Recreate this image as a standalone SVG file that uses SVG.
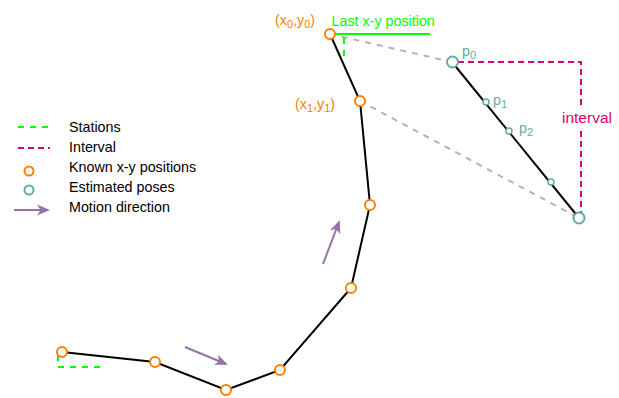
<svg xmlns="http://www.w3.org/2000/svg" width="619" height="398" viewBox="0 0 619 398">
<defs>
<style>
text{font-family:"Liberation Sans",Arial,sans-serif;font-size:14.3px}
.sub{font-size:11px}
.k{fill:#fff;stroke:#ff8000;stroke-width:2}
.e{fill:#fff;stroke:#67ab9f;stroke-width:2}
.es{fill:#fff;stroke:#67ab9f;stroke-width:1.5}
.path{fill:none;stroke:#000;stroke-width:2}
.gd{fill:none;stroke:#b3b3b3;stroke-width:2;stroke-dasharray:6 6}
.st{fill:none;stroke:#00ff00;stroke-width:2;stroke-dasharray:6 6}
.iv{fill:none;stroke:#d80073;stroke-width:2;stroke-dasharray:6 4}
.mv{stroke:#9673a6;stroke-width:2;fill:none}
</style>
<marker id="ah" markerWidth="13" markerHeight="12" refX="11" refY="6" orient="auto" markerUnits="userSpaceOnUse">
<path d="M0,0.5 L13,6 L0,11.5 L3.5,6 Z" fill="#9673a6"/>
</marker>
</defs>
<g id="connectors">
<path class="gd" d="M330,34 L452,62"/>
<path class="gd" d="M360,101 L579,218"/>
<polyline class="path" points="62,352 155,362 226,390 280,370 351,288 370,205 360,101 330,34"/>
<polyline class="path" points="452,62 579,218"/>
<path d="M335,34 L430,34" stroke="#00ff00" stroke-width="2"/>
<path class="st" d="M344,38 L344,56"/>
<path class="st" d="M58,355 L58,367 L100,367"/>
<path class="iv" d="M458,62 L581,62 L581,107"/>
<path class="iv" d="M581,131 L581,214"/>
<path class="mv" marker-end="url(#ah)" d="M185,347 L226,364"/>
<path class="mv" marker-end="url(#ah)" d="M323,264 L339,222"/>
</g>
<g id="known">
<circle class="k" cx="62" cy="352" r="5"/>
<circle class="k" cx="155" cy="362" r="5"/>
<circle class="k" cx="226" cy="390" r="5"/>
<circle class="k" cx="280" cy="370" r="5"/>
<circle class="k" cx="351" cy="288" r="5"/>
<circle class="k" cx="370" cy="205" r="5"/>
<circle class="k" cx="360" cy="101" r="5"/>
<circle class="k" cx="330" cy="34" r="5"/>
</g>
<g id="estimated">
<circle class="e" cx="452.5" cy="62" r="5.5"/>
<circle class="es" cx="486" cy="102" r="3"/>
<circle class="es" cx="509" cy="131" r="3"/>
<circle class="es" cx="551" cy="182" r="3"/>
<circle class="e" cx="579" cy="218" r="5.5"/>
</g>
<g id="labels">
<text x="275" y="25" fill="#ff8000">(x<tspan class="sub" dy="3">0</tspan><tspan dy="-3">,y</tspan><tspan class="sub" dy="3">0</tspan><tspan dy="-3">)</tspan></text>
<text x="295" y="109" fill="#ff8000">(x<tspan class="sub" dy="3">1</tspan><tspan dy="-3">,y</tspan><tspan class="sub" dy="3">1</tspan><tspan dy="-3">)</tspan></text>
<text x="331.5" y="26" fill="#00ff00">Last x-y position</text>
<text x="462" y="56" fill="#67ab9f">p<tspan class="sub" dy="3">0</tspan></text>
<text x="493" y="105" fill="#67ab9f">p<tspan class="sub" dy="3">1</tspan></text>
<text x="519" y="133" fill="#67ab9f">p<tspan class="sub" dy="3">2</tspan></text>
<text x="562" y="123" fill="#d80073" style="font-size:15.5px">interval</text>
</g>
<g id="legend">
<path class="st" d="M18,127 L50,127"/>
<path class="iv" d="M18,148 L50,148" stroke-dasharray="6 6"/>
<circle class="k" cx="29" cy="171" r="4.5"/>
<circle class="e" cx="29" cy="190" r="4.5"/>
<path class="mv" marker-end="url(#ah)" d="M14,210 L48,210"/>
<text x="69" y="132">Stations</text>
<text x="69" y="152">Interval</text>
<text x="69" y="172">Known x-y positions</text>
<text x="69" y="192">Estimated poses</text>
<text x="69" y="212">Motion direction</text>
</g>
</svg>
